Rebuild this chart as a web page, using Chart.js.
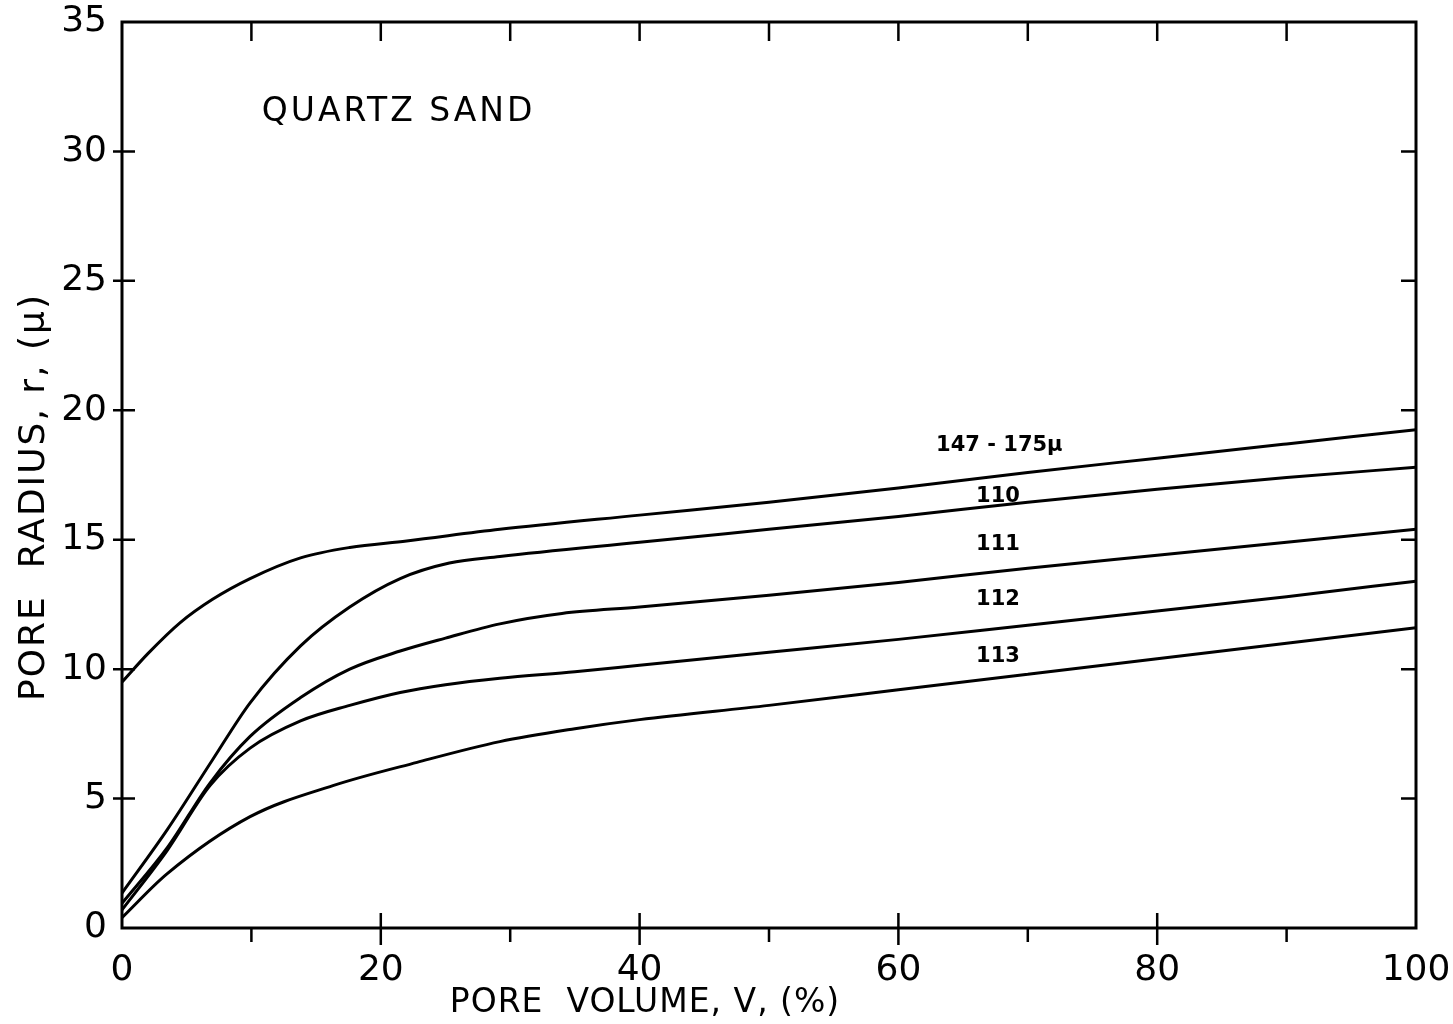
<!DOCTYPE html>
<html>
<head>
<meta charset="utf-8">
<script src="https://cdn.jsdelivr.net/npm/chart.js@4"></script>
<style>
	html, body { margin: 0; padding: 0; background: #fff; }
	#wrap { width: 1453px; height: 1024px; }
</style>
</head>
<body>
<div id="wrap"><canvas id="myChart" width="1453" height="1024"></canvas></div>
<script>
// Pore volume (%) / pore radius (micron)
const curve147 = [[0, 9.5], [2, 10.6], [4.5, 11.8], [7, 12.7], [9.9, 13.5], [13.8, 14.3], [17.6, 14.7], [22, 14.95], [29.2, 15.4], [40, 15.95], [50, 16.45], [60, 17.0], [70, 17.6], [80, 18.15], [90, 18.7], [100, 19.25]];
const curve110 = [[0, 1.35], [3.5, 3.8], [7, 6.5], [9.9, 8.7], [13.8, 10.9], [17.6, 12.4], [21.5, 13.5], [25.3, 14.1], [29.2, 14.35], [40, 14.9], [50, 15.4], [60, 15.9], [70, 16.45], [80, 16.95], [90, 17.4], [100, 17.8]];
const curve111 = [[0, 0.95], [3.5, 3.1], [6.8, 5.6], [9.9, 7.4], [13.8, 8.9], [17.6, 10.0], [21.5, 10.7], [25, 11.2], [29.2, 11.75], [34, 12.15], [40, 12.4], [50, 12.85], [60, 13.35], [70, 13.9], [80, 14.4], [90, 14.9], [100, 15.4]];
const curve112 = [[0, 0.7], [3.5, 3.0], [6.8, 5.5], [9.9, 6.95], [13.8, 8.0], [17.6, 8.6], [21.5, 9.1], [25, 9.4], [29.2, 9.65], [35, 9.9], [40, 10.15], [50, 10.65], [60, 11.15], [70, 11.7], [80, 12.25], [90, 12.8], [100, 13.4]];
const curve113 = [[0, 0.4], [3.5, 2.1], [9.9, 4.3], [16.3, 5.5], [22.8, 6.4], [29.2, 7.2], [35, 7.7], [40, 8.05], [50, 8.6], [60, 9.2], [70, 9.8], [80, 10.4], [90, 11.0], [100, 11.6]];

const curveNames = ["147 - 175\u03bc", "110", "111", "112", "113"];

// tick values
const xMajorTicks = [20, 40, 60, 80];
const xMinorTicks = [10, 30, 50, 70, 90];
const xTopTicks = [10, 20, 30, 40, 50, 60, 70, 80, 90];
const yTicks = [5, 10, 15, 20, 25, 30];

const FONT = "'DejaVu Sans', sans-serif";

// text written inside the plot, anchored in data units
const notes = [
	{ text: "QUARTZ SAND", x: 10.8, y: 31.5, size: 33, weight: "normal", align: "left", spacing: "3px" },
	{ text: curveNames[0], x: 67.8, y: 18.65, size: 21, weight: "bold", align: "center", spacing: "0px" },
	{ text: curveNames[1], x: 67.7, y: 16.65, size: 21, weight: "bold", align: "center", spacing: "0px" },
	{ text: curveNames[2], x: 67.7, y: 14.8, size: 21, weight: "bold", align: "center", spacing: "0px" },
	{ text: curveNames[3], x: 67.7, y: 12.67, size: 21, weight: "bold", align: "center", spacing: "0px" },
	{ text: curveNames[4], x: 67.7, y: 10.5, size: 21, weight: "bold", align: "center", spacing: "0px" },
];

const toPoints = (arr) => arr.map(([x, y]) => ({ x, y }));

const lineStyle = {
	borderColor: "#000",
	borderWidth: 3,
	pointRadius: 0,
	fill: false,
	cubicInterpolationMode: "monotone",
};

// frame, ticks and texts
const framePlugin = {
	id: "frame",
	afterDraw(chart) {
		const ctx = chart.ctx;
		const area = chart.chartArea;
		const xs = chart.scales.x;
		const ys = chart.scales.y;
		ctx.save();
		ctx.strokeStyle = "#000";
		ctx.lineWidth = 3;
		ctx.strokeRect(area.left, area.top, area.right - area.left, area.bottom - area.top);

		ctx.lineWidth = 2.5;
		ctx.beginPath();
		// bottom axis
		xMajorTicks.forEach((v) => {
			const px = xs.getPixelForValue(v);
			ctx.moveTo(px, area.bottom - 15);
			ctx.lineTo(px, area.bottom + 17);
		});
		xMinorTicks.forEach((v) => {
			const px = xs.getPixelForValue(v);
			ctx.moveTo(px, area.bottom);
			ctx.lineTo(px, area.bottom + 14);
		});
		// top axis, inward
		xTopTicks.forEach((v) => {
			const px = xs.getPixelForValue(v);
			ctx.moveTo(px, area.top);
			ctx.lineTo(px, area.top + 19);
		});
		// left axis crosses, right axis inward
		yTicks.forEach((v) => {
			const py = ys.getPixelForValue(v);
			ctx.moveTo(area.left - 9, py);
			ctx.lineTo(area.left + 13, py);
			ctx.moveTo(area.right, py);
			ctx.lineTo(area.right - 15, py);
		});
		ctx.stroke();

		ctx.fillStyle = "#000";
		ctx.textBaseline = "middle";
		notes.forEach((n) => {
			ctx.font = n.weight + " " + n.size + "px " + FONT;
			ctx.letterSpacing = n.spacing;
			ctx.textAlign = n.align;
			ctx.fillText(n.text, xs.getPixelForValue(n.x), ys.getPixelForValue(n.y));
		});

		// axis titles
		ctx.textAlign = "center";
		ctx.font = "33px " + FONT;
		ctx.letterSpacing = "1px";
		ctx.fillText("PORE  VOLUME, V, (%)", 645, 1003);

		ctx.save();
		ctx.translate(35, 497);
		ctx.rotate(-Math.PI / 2);
		ctx.font = "36px " + FONT;
		ctx.letterSpacing = "2px";
		ctx.fillText("PORE  RADIUS, r, (\u03bc)", 0, 0);
		ctx.restore();

		ctx.restore();
	},
};

new Chart(document.getElementById("myChart"), {
	type: "line",
	data: {
		datasets: [
			{ label: curveNames[0], data: toPoints(curve147), ...lineStyle },
			{ label: curveNames[1], data: toPoints(curve110), ...lineStyle },
			{ label: curveNames[2], data: toPoints(curve111), ...lineStyle },
			{ label: curveNames[3], data: toPoints(curve112), ...lineStyle },
			{ label: curveNames[4], data: toPoints(curve113), ...lineStyle },
		],
	},
	options: {
		responsive: false,
		animation: false,
		layout: { padding: { top: 22, right: 37, left: 0, bottom: 0 } },
		plugins: {
			legend: { display: false },
			tooltip: { enabled: false },
		},
		scales: {
			x: {
				type: "linear",
				min: 0,
				max: 100,
				grid: { display: false, drawTicks: false },
				border: { display: false },
				ticks: {
					stepSize: 20,
					color: "#000",
					padding: 21,
					font: { family: FONT, size: 36 },
				},
				afterFit: (scale) => {
					scale.height = 96;
					scale.paddingLeft = 0;
					scale.paddingRight = 0;
				},
			},
			y: {
				min: 0,
				max: 35,
				grid: { display: false, drawTicks: false },
				border: { display: false },
				ticks: {
					stepSize: 5,
					color: "#000",
					padding: 15,
					font: { family: FONT, size: 36 },
				},
				afterFit: (scale) => {
					scale.width = 122;
					scale.paddingTop = 0;
					scale.paddingBottom = 0;
				},
			},
		},
	},
	plugins: [framePlugin],
});
</script>
</body>
</html>
